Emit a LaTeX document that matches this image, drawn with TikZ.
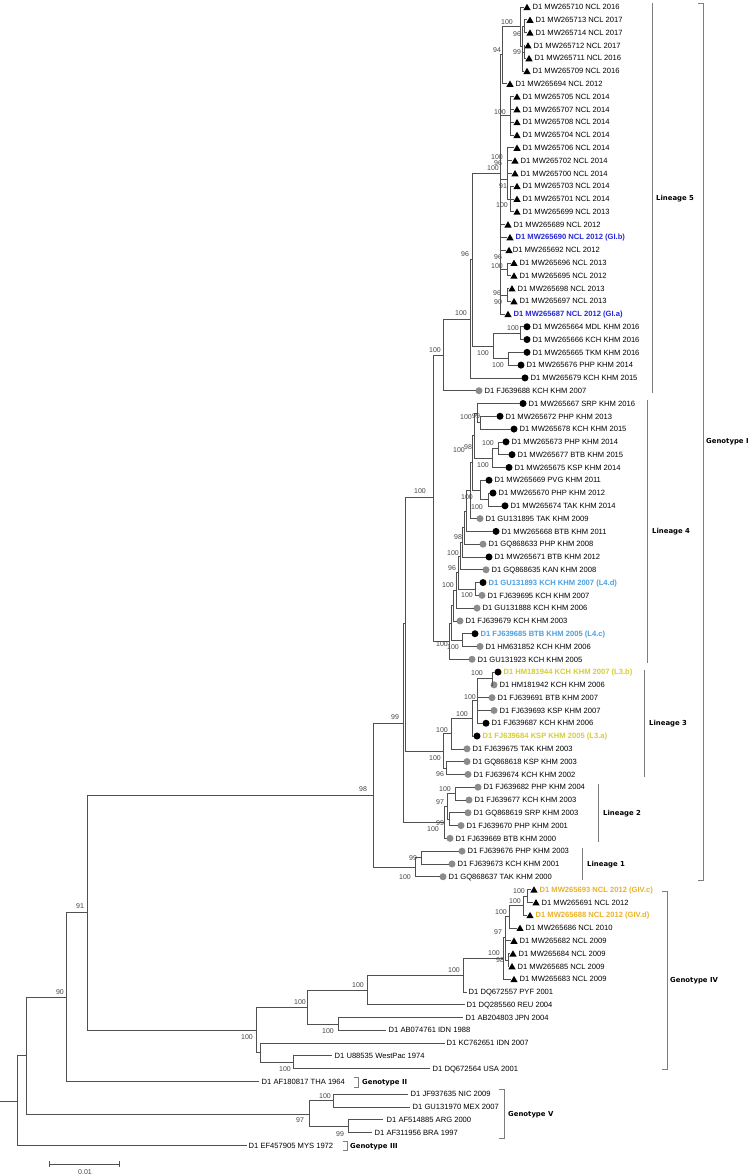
\documentclass[tikz,border=0pt]{standalone}
\usepackage{fontspec}
\setmainfont{Liberation Sans}
\newfontfamily\grpfont{DejaVu Sans}
\usetikzlibrary{shapes.geometric}
\definecolor{brc}{RGB}{80,80,80}
\definecolor{gcir}{RGB}{140,140,140}
\definecolor{cblue}{RGB}{40,40,215}
\definecolor{clblue}{RGB}{75,160,225}
\definecolor{cyel}{RGB}{215,205,45}
\definecolor{cora}{RGB}{235,178,40}
\definecolor{bsc}{RGB}{70,70,70}
\definecolor{bkt}{RGB}{125,125,125}
\newcommand\lfnorm{\fontsize{7.6}{8}\selectfont}
\newcommand\lfbold{\fontsize{7.6}{8}\selectfont\bfseries}
\begin{document}
\begin{tikzpicture}[x=1pt,y=-1pt]
\tikzset{
  br/.style={draw=brc,line width=0.6pt},
  mkt/.style={regular polygon,regular polygon sides=3,minimum size=8.4pt,inner sep=0pt,fill=black,draw=none,yshift=-1pt},
  mkb/.style={circle,minimum size=7pt,inner sep=0pt,fill=black},
  mkg/.style={circle,minimum size=7pt,inner sep=0pt,fill=gcir},
  lf/.style={anchor=west,inner sep=0pt,text height=5.5pt,text depth=0pt},
  bs/.style={inner sep=0pt,font=\fontsize{7}{8}\selectfont,text=bsc},
  grp/.style={anchor=west,inner sep=0pt,font=\grpfont\bfseries\fontsize{6.9}{8}\selectfont,text height=5pt,text depth=0pt},
  bk/.style={draw=bkt,line width=0.7pt}
}
\path[use as bounding box,fill=white] (0,0) rectangle (750,1175);

% ---------- internal nodes ----------
\coordinate (R0) at (0,1101);
\coordinate (R) at (17,1101);
\coordinate (A) at (26,1055.5);
\coordinate (B) at (66,997);
\coordinate (E) at (87,912);
\coordinate (N) at (373,795);
\coordinate (P99) at (403,723);
\coordinate (M) at (405,623);
\coordinate (T) at (433,497);
\coordinate (Rr) at (443,355);
\coordinate (S) at (470,319);
\coordinate (Q) at (472,259.5);
\coordinate (NCL) at (500,173);
\coordinate (n0) at (502,54);
\coordinate (n1) at (520,26);
\coordinate (n1s) at (522,46);
\coordinate (n1sa) at (524,26.2);
\coordinate (n1sb) at (524,51.8);
\coordinate (n2) at (510,115.7);
\coordinate (n3) at (507,179);
\coordinate (n3b) at (510,198.9);
\coordinate (n4) at (507,269.2);
\coordinate (n5) at (507,294.8);
\coordinate (p1) at (520,333.1);
\coordinate (p2) at (493,345.9);
\coordinate (p3) at (508,358.7);
\coordinate (c1) at (480,422.7);
\coordinate (c2) at (477,413);
\coordinate (a1) at (498,448.3);
\coordinate (a2) at (492,457.9);
\coordinate (c3) at (474,435.5);
\coordinate (a4) at (488,499.4);
\coordinate (a3) at (480,489.8);
\coordinate (c4) at (472,462.7);
\coordinate (c5) at (470,490.7);
\coordinate (c6) at (466,511);
\coordinate (c7) at (464,527.6);
\coordinate (c8) at (462,542.3);
\coordinate (c9) at (460,556);
\coordinate (a5) at (475,589);
\coordinate (b4) at (458,572.5);
\coordinate (b3) at (456,590.3);
\coordinate (b2) at (453,605.6);
\coordinate (a6) at (462,640.1);
\coordinate (b1) at (451,622.9);
\coordinate (L4r) at (449,641);
\coordinate (g3) at (492,678.5);
\coordinate (g4) at (477,700.7);
\coordinate (g5) at (472,718.4);
\coordinate (g2) at (451,733.6);
\coordinate (g1) at (446,768);
\coordinate (L3r) at (443,750.8);
\coordinate (l2a) at (455,793.6);
\coordinate (l2b) at (449,819.2);
\coordinate (l2c) at (447,806.4);
\coordinate (L2r) at (444,822.4);
\coordinate (l1a) at (421,857.5);
\coordinate (l1) at (415,867);
\coordinate (iv1) at (527,895.9);
\coordinate (iv2) at (523,905.5);
\coordinate (iv3) at (509,916.7);
\coordinate (iv5) at (508,959.9);
\coordinate (iv4) at (505,937);
\coordinate (iv0) at (503,958);
\coordinate (v) at (463,975);
\coordinate (w) at (367,990);
\coordinate (d2) at (338,1023.8);
\coordinate (D) at (307,1007);
\coordinate (gc3) at (293,1062.2);
\coordinate (gc2) at (260,1052.6);
\coordinate (C) at (256,1030);
\coordinate (gv1) at (333,1100.5);
\coordinate (gv2) at (348,1126.1);
\coordinate (GV) at (309,1114);

% ---------- leaves: triangles ----------
\foreach \i/\xc/\dx/\t/\tc/\tw in {
1/527/5.4/MW265710 NCL 2016/black/\lfnorm,
2/530/5.4/MW265713 NCL 2017/black/\lfnorm,
3/530/5.4/MW265714 NCL 2017/black/\lfnorm,
4/528/5.4/MW265712 NCL 2017/black/\lfnorm,
5/529/5.4/MW265711 NCL 2016/black/\lfnorm,
6/527/5.4/MW265709 NCL 2016/black/\lfnorm,
7/510/5.4/MW265694 NCL 2012/black/\lfnorm,
8/517/5.4/MW265705 NCL 2014/black/\lfnorm,
9/517/5.4/MW265707 NCL 2014/black/\lfnorm,
10/517/5.4/MW265708 NCL 2014/black/\lfnorm,
11/517/5.4/MW265704 NCL 2014/black/\lfnorm,
12/517/5.4/MW265706 NCL 2014/black/\lfnorm,
13/515/5.4/MW265702 NCL 2014/black/\lfnorm,
14/515/5.4/MW265700 NCL 2014/black/\lfnorm,
15/517/5.4/MW265703 NCL 2014/black/\lfnorm,
16/517/5.4/MW265701 NCL 2014/black/\lfnorm,
17/517/5.4/MW265699 NCL 2013/black/\lfnorm,
18/508/5.4/MW265689 NCL 2012/black/\lfnorm,
19/510/5.4/MW265690 NCL 2012 (GI.b)/cblue/\lfbold,
20/509/3.6/MW265692 NCL 2012/black/\lfnorm,
21/514/5.4/MW265696 NCL 2013/black/\lfnorm,
22/514/5.4/MW265695 NCL 2012/black/\lfnorm,
23/512/5.4/MW265698 NCL 2013/black/\lfnorm,
24/514/5.4/MW265697 NCL 2013/black/\lfnorm,
25/508/5.4/MW265687 NCL 2012 (GI.a)/cblue/\lfbold,
70/534/5.4/MW265693 NCL 2012 (GIV.c)/cora/\lfbold,
71/536/5.4/MW265691 NCL 2012/black/\lfnorm,
72/530/5.4/MW265688 NCL 2012 (GIV.d)/cora/\lfbold,
73/520/5.4/MW265686 NCL 2010/black/\lfnorm,
74/514/5.4/MW265682 NCL 2009/black/\lfnorm,
75/513/5.4/MW265684 NCL 2009/black/\lfnorm,
76/512/5.4/MW265685 NCL 2009/black/\lfnorm,
77/514/5.4/MW265683 NCL 2009/black/\lfnorm}{
  \pgfmathsetmacro{\yy}{7+(\i-1)*12.79}
  \coordinate (L\i) at (\xc-3.5,\yy);
  \node[mkt] (M\i) at (\xc,\yy) {};
  \node[lf,text=\tc,font=\tw] (T\i) at (\xc+\dx,\yy) {D1 \t};
}

% ---------- leaves: black circles ----------
\foreach \i/\xc/\t/\tc/\tw in {
26/527/MW265664 MDL KHM 2016/black/\lfnorm,
27/527/MW265666 KCH KHM 2016/black/\lfnorm,
28/527/MW265665 TKM KHM 2016/black/\lfnorm,
29/521/MW265676 PHP KHM 2014/black/\lfnorm,
30/525/MW265679 KCH KHM 2015/black/\lfnorm,
32/523/MW265667 SRP KHM 2016/black/\lfnorm,
33/500/MW265672 PHP KHM 2013/black/\lfnorm,
34/514/MW265678 KCH KHM 2015/black/\lfnorm,
35/506/MW265673 PHP KHM 2014/black/\lfnorm,
36/512/MW265677 BTB KHM 2015/black/\lfnorm,
37/509/MW265675 KSP KHM 2014/black/\lfnorm,
38/489/MW265669 PVG KHM 2011/black/\lfnorm,
39/493/MW265670 PHP KHM 2012/black/\lfnorm,
40/505/MW265674 TAK KHM 2014/black/\lfnorm,
42/496/MW265668 BTB KHM 2011/black/\lfnorm,
44/489/MW265671 BTB KHM 2012/black/\lfnorm,
46/483/GU131893 KCH KHM 2007 (L4.d)/clblue/\lfbold,
50/475/FJ639685 BTB KHM 2005 (L4.c)/clblue/\lfbold,
53/498/HM181944 KCH KHM 2007 (L3.b)/cyel/\lfbold,
57/486/FJ639687 KCH KHM 2006/black/\lfnorm,
58/477/FJ639684 KSP KHM 2005 (L3.a)/cyel/\lfbold}{
  \pgfmathsetmacro{\yy}{7+(\i-1)*12.79}
  \coordinate (L\i) at (\xc-3.5,\yy);
  \node[mkb] (M\i) at (\xc,\yy) {};
  \node[lf,text=\tc,font=\tw] (T\i) at (\xc+5.4,\yy) {D1 \t};
}

% ---------- leaves: grey circles ----------
\foreach \i/\xc/\t in {
31/479/FJ639688 KCH KHM 2007,
41/480/GU131895 TAK KHM 2009,
43/483/GQ868633 PHP KHM 2008,
45/486/GQ868635 KAN KHM 2008,
47/482/FJ639695 KCH KHM 2007,
48/477/GU131888 KCH KHM 2006,
49/460/FJ639679 KCH KHM 2003,
51/480/HM631852 KCH KHM 2006,
52/472/GU131923 KCH KHM 2005,
54/494/HM181942 KCH KHM 2006,
55/492/FJ639691 BTB KHM 2007,
56/494/FJ639693 KSP KHM 2007,
59/467/FJ639675 TAK KHM 2003,
60/467/GQ868618 KSP KHM 2003,
61/468/FJ639674 KCH KHM 2002,
62/478/FJ639682 PHP KHM 2004,
63/469/FJ639677 KCH KHM 2003,
64/468/GQ868619 SRP KHM 2003,
65/461/FJ639670 PHP KHM 2001,
66/450/FJ639669 BTB KHM 2000,
67/462/FJ639676 PHP KHM 2003,
68/452/FJ639673 KCH KHM 2001,
69/443/GQ868637 TAK KHM 2000}{
  \pgfmathsetmacro{\yy}{7+(\i-1)*12.79}
  \coordinate (L\i) at (\xc-3.5,\yy);
  \node[mkg] (M\i) at (\xc,\yy) {};
  \node[lf,font=\lfnorm] (T\i) at (\xc+5.4,\yy) {D1 \t};
}

% ---------- leaves without marker ----------
\foreach \i/\xe/\xt/\t in {
78/467/469/DQ672557 PYF 2001,
79/465/467/DQ285560 REU 2004,
80/463/466/AB204803 JPN 2004,
81/386/389/AB074761 IDN 1988,
82/445/447/KC762651 IDN 2007,
83/332/335/U88535 WestPac 1974,
84/430/433/DQ672564 USA 2001,
85/259/262/AF180817 THA 1964,
86/408/411/JF937635 NIC 2009,
87/410/413/GU131970 MEX 2007,
88/383/387/AF514885 ARG 2000,
89/372/375/AF311956 BRA 1997,
90/247/249/EF457905 MYS 1972}{
  \pgfmathsetmacro{\yy}{7+(\i-1)*12.79}
  \coordinate (L\i) at (\xe,\yy);
  \node[lf,font=\lfnorm] (T\i) at (\xt-0.5,\yy) {D1 \t};
}

% ---------- branches ----------
\draw[br] (R0) -- (R);
\foreach \p/\c in {R/A,R/L90,A/B,A/GV,B/E,B/L85,E/N,E/C,N/P99,N/l1,P99/M,P99/L2r,
  M/T,M/L3r,T/Rr,T/L4r,Rr/S,Rr/L31,S/Q,S/L30,Q/NCL,Q/p2,p2/p1,p2/p3,
  p1/L26,p1/L27,p3/L28,p3/L29,
  NCL/n0,NCL/n2,NCL/n3,NCL/L18,NCL/L19,NCL/L20,NCL/n4,NCL/n5,NCL/L25,
  n0/n1,n0/L7,n1/L1,n1/n1s,n1s/n1sa,n1s/n1sb,n1s/L6,n1sa/L2,n1sa/L3,n1sb/L4,n1sb/L5,
  n2/L8,n2/L9,n2/L10,n2/L11,n3/L12,n3/L13,n3/L14,n3/n3b,n3b/L15,n3b/L16,n3b/L17,
  n4/L21,n4/L22,n5/L23,n5/L24,
  L4r/b1,L4r/L52,b1/b2,b1/a6,a6/L50,a6/L51,b2/b3,b2/L49,b3/b4,b3/L48,b4/c9,b4/a5,
  a5/L46,a5/L47,c9/c8,c9/L45,c8/c7,c8/L44,c7/c6,c7/L43,c6/c5,c6/L42,c5/c4,c5/L41,
  c4/c3,c4/a3,a3/L38,a3/a4,a4/L39,a4/L40,c3/c2,c3/a2,a2/a1,a2/L37,a1/L35,a1/L36,
  c2/L32,c2/c1,c1/L33,c1/L34,
  L3r/g2,L3r/g1,g1/L60,g1/L61,g2/g5,g2/L59,g5/g4,g5/L58,g4/g3,g4/L55,g4/L56,g4/L57,
  g3/L53,g3/L54,
  L2r/l2c,L2r/L66,l2c/l2a,l2c/l2b,l2a/L62,l2a/L63,l2b/L64,l2b/L65,
  l1/l1a,l1/L69,l1a/L67,l1a/L68,
  C/D,C/gc2,D/w,D/d2,w/v,w/L79,v/iv0,v/L78,iv0/iv4,iv0/L77,iv4/iv3,iv4/L74,iv4/iv5,
  iv5/L75,iv5/L76,iv3/iv2,iv3/L73,iv2/iv1,iv2/L72,iv1/L70,iv1/L71,d2/L80,d2/L81,
  gc2/L82,gc2/gc3,gc3/L83,gc3/L84,
  GV/gv1,GV/gv2,gv1/L86,gv1/L87,gv2/L88,gv2/L89}{
  \draw[br] (\p) |- (\c);
}

% ---------- bootstrap values ----------
\foreach \x/\y/\t [count=\k] in {
507/22/100,517/34/96,517/52/99,497/50/94,500/112/100,497/157/100,498/163/96,493/168/100,
503/186/91,502/205/100,498/257/96,497/266/100,497/293/96,498/302/90,465/254/96,461/313/100,
435/350/100,513/328/100,483/353/100,498/365/100,420/491/100,466/417/100,476/416/99,
488/443/100,459/450/100,468/447/98,483/465/100,467/497/100,477/507/100,458/537/98,
453/553/100,452/568/96,448/585/100,467/595/100,442/644/100,453/647/100,
477/673/100,470/697/100,462/714/100,442/730/100,435/758/100,440/774/96,
445/789/100,440/802/97,440/823/99,433/829/100,413/858/99,405/877/100,395/717/99,363/789/98,
519/891/100,515/901/100,501/912/100,498/932/97,494/953/100,500/960/98,454/970/100,
358/985/100,300/1002/100,328/1031/100,247/1037/100,285/1069/100,
325/1096/100,300/1120/97,340/1134/99,60/992/90,80/906/91}{
  \node[bs] (bv\k) at (\x,\y) {\t};
}

% ---------- group brackets ----------
\coordinate (gIa) at (698,3); \coordinate (gIb) at (703,3);
\coordinate (gIc) at (703,880); \coordinate (gId) at (698,880);
\draw[bk] (gIa) -- (gIb) -- (gIc) -- (gId);
\node[grp] (gIlab) at (706,441) {Genotype I};

\coordinate (l5a) at (652,3); \coordinate (l5b) at (652,393);
\draw[bk] (l5a) -- (l5b);
\node[grp] (l5lab) at (656,198) {Lineage 5};

\coordinate (l4a) at (647,400); \coordinate (l4b) at (647,663);
\draw[bk] (l4a) -- (l4b);
\node[grp] (l4lab) at (652,531) {Lineage 4};

\coordinate (l3a) at (644,670); \coordinate (l3b) at (644,777);
\draw[bk] (l3a) -- (l3b);
\node[grp] (l3lab) at (649,723) {Lineage 3};

\coordinate (l2ba) at (598,784); \coordinate (l2bb) at (598,842);
\draw[bk] (l2ba) -- (l2bb);
\node[grp] (l2lab) at (603,813) {Lineage 2};

\coordinate (l1ba) at (582,848); \coordinate (l1bb) at (582,880);
\draw[bk] (l1ba) -- (l1bb);
\node[grp] (l1lab) at (587,864) {Lineage 1};

\coordinate (g4a) at (662,891); \coordinate (g4b) at (667,891);
\coordinate (g4c) at (667,1069); \coordinate (g4d) at (662,1069);
\draw[bk] (g4a) -- (g4b) -- (g4c) -- (g4d);
\node[grp] (g4lab) at (670,980) {Genotype IV};

\coordinate (g2a) at (354,1077); \coordinate (g2b) at (358,1077);
\coordinate (g2c) at (358,1087); \coordinate (g2d) at (354,1087);
\draw[bk] (g2a) -- (g2b) -- (g2c) -- (g2d);
\node[grp] (g2lab) at (362,1082) {Genotype II};

\coordinate (g5a) at (499,1089); \coordinate (g5b) at (504,1089);
\coordinate (g5c) at (504,1138); \coordinate (g5d) at (499,1138);
\draw[bk] (g5a) -- (g5b) -- (g5c) -- (g5d);
\node[grp] (g5lab) at (508,1114) {Genotype V};

\coordinate (g3a) at (343,1141); \coordinate (g3b) at (347,1141);
\coordinate (g3c) at (347,1150); \coordinate (g3d) at (343,1150);
\draw[bk] (g3a) -- (g3b) -- (g3c) -- (g3d);
\node[grp] (g3lab) at (350,1146) {Genotype III};

% ---------- scale bar ----------
\coordinate (sba) at (49,1164); \coordinate (sbb) at (119,1164);
\draw[br] (sba) -- (sbb);
\draw[br] ([yshift=3pt]sba) -- ([yshift=-3pt]sba);
\draw[br] ([yshift=3pt]sbb) -- ([yshift=-3pt]sbb);
\node[bs] (sblab) at (85,1172) {0.01};
\end{tikzpicture}
\end{document}
